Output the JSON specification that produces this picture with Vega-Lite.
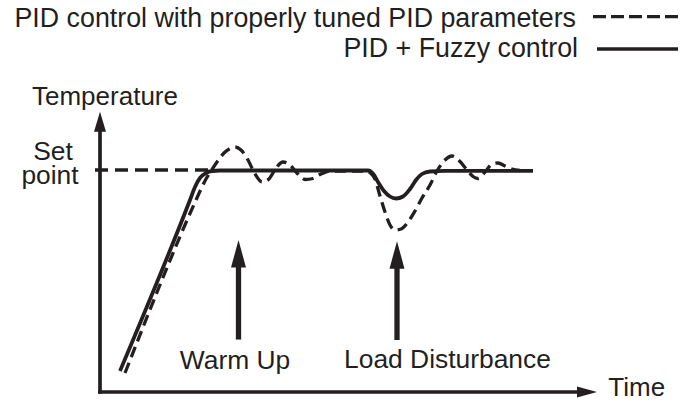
{
  "$schema": "https://vega.github.io/schema/vega-lite/v6.json",
  "width": 690,
  "height": 400,
  "padding": 0,
  "autosize": {"type": "none"},
  "background": "white",
  "config": {"view": {"stroke": null}},
  "datasets": {
    "fuzzy": [
      {"time": 4, "temp": 7.57}, {"time": 18.0, "temp": 69.19}, {"time": 19.0, "temp": 73.87},
      {"time": 20.0, "temp": 77.12}, {"time": 21.2, "temp": 78.92}, {"time": 22.4, "temp": 79.64},
      {"time": 24, "temp": 79.82}, {"time": 53.6, "temp": 79.82}, {"time": 54.8, "temp": 78.2},
      {"time": 55.6, "temp": 75.68}, {"time": 56.8, "temp": 72.43}, {"time": 58, "temp": 70.45},
      {"time": 59.2, "temp": 69.73}, {"time": 60.6, "temp": 70.45}, {"time": 62, "temp": 73.15},
      {"time": 63.2, "temp": 76.4}, {"time": 64.4, "temp": 78.56}, {"time": 66, "temp": 79.46},
      {"time": 69, "temp": 79.7}, {"time": 86.6, "temp": 79.7}
    ],
    "pid": [
      {"time": 5, "temp": 6.85}, {"time": 19.2, "temp": 69.19}, {"time": 20.2, "temp": 73.15},
      {"time": 21.2, "temp": 76.76}, {"time": 22.2, "temp": 79.64}, {"time": 23.4, "temp": 82.88},
      {"time": 24.8, "temp": 86.13}, {"time": 26.0, "temp": 87.75}, {"time": 27.0, "temp": 88.29},
      {"time": 28.2, "temp": 87.21}, {"time": 29.6, "temp": 83.6}, {"time": 31.0, "temp": 78.56},
      {"time": 32.4, "temp": 75.68}, {"time": 33.8, "temp": 76.76}, {"time": 35.2, "temp": 80.72},
      {"time": 36.6, "temp": 82.88}, {"time": 38.0, "temp": 81.8}, {"time": 39.4, "temp": 78.92},
      {"time": 41.0, "temp": 76.58}, {"time": 42.6, "temp": 76.94}, {"time": 44.2, "temp": 78.56},
      {"time": 46.0, "temp": 79.64}, {"time": 53.2, "temp": 79.64}, {"time": 54.2, "temp": 78.74},
      {"time": 55.0, "temp": 76.76}, {"time": 56.0, "temp": 70.63}, {"time": 57.0, "temp": 64.86},
      {"time": 58.0, "temp": 60.18}, {"time": 59.0, "temp": 58.38}, {"time": 60.2, "temp": 58.74},
      {"time": 61.6, "temp": 61.26}, {"time": 63.0, "temp": 65.23}, {"time": 64.4, "temp": 69.91},
      {"time": 66.0, "temp": 74.59}, {"time": 67.4, "temp": 79.64}, {"time": 69.0, "temp": 83.6},
      {"time": 70.4, "temp": 85.05}, {"time": 72.0, "temp": 83.06}, {"time": 73.4, "temp": 80.0},
      {"time": 74.6, "temp": 77.66}, {"time": 75.6, "temp": 76.94}, {"time": 77.0, "temp": 79.28},
      {"time": 78.4, "temp": 82.16}, {"time": 79.6, "temp": 82.52}, {"time": 81.0, "temp": 81.44},
      {"time": 82.4, "temp": 80.36}, {"time": 84.0, "temp": 79.82}
    ],
    "axes": [
      {"time": 0, "temp": 0, "time2": 0, "temp2": 95.1},
      {"time": 0, "temp": 0, "time2": 96, "temp2": 0}
    ],
    "shafts": [
      {"time": 27.7, "temp": 18.9, "time2": 27.7, "temp2": 47.2},
      {"time": 59.4, "temp": 18.74, "time2": 59.4, "temp2": 47.2}
    ],
    "setpoint": [{"time": -1, "temp": 80, "time2": 22.6, "temp2": 80}],
    "legendDashed": [{"time": 98.6, "temp": 135.3, "time2": 115.6, "temp2": 135.3}],
    "legendSolid": [{"time": 99.4, "temp": 123.6, "time2": 115.6, "temp2": 123.6}],
    "headUp": [{"time": 0, "temp": 97.4}],
    "headRight": [{"time": 97.4, "temp": 0}],
    "bigHeads": [{"time": 27.7, "temp": 49.8}, {"time": 59.4, "temp": 49.4}],
    "labelsLeft": [
      {"time": -13.6, "temp": 103.42, "label": "Temperature"},
      {"time": 101.66, "temp": -1.6, "label": "Time"}
    ],
    "labelsCenter": [
      {"time": -9.4, "temp": 83.6, "label": "Set"},
      {"time": -10, "temp": 74.8, "label": "point"},
      {"time": 27, "temp": 8.18, "label": "Warm Up"},
      {"time": 69.5, "temp": 8.54, "label": "Load Disturbance"}
    ],
    "labelsRight": [
      {"time": 95.2, "temp": 131.64, "label": "PID control with properly tuned PID parameters"},
      {"time": 95.6, "temp": 120.61, "label": "PID + Fuzzy control"}
    ]
  },
  "encoding": {
    "x": {"field": "time", "type": "quantitative", "scale": {"domain": [-20, 118], "nice": false, "zero": false}, "axis": null},
    "y": {"field": "temp", "type": "quantitative", "scale": {"domain": [-2.883, 141.26], "nice": false, "zero": false}, "axis": null}
  },
  "layer": [
    {
      "data": {"name": "axes"},
      "mark": {"type": "rule", "color": "#231f20", "strokeWidth": 3.7, "strokeCap": "square"},
      "encoding": {"x2": {"field": "time2"}, "y2": {"field": "temp2"}}
    },
    {
      "data": {"name": "shafts"},
      "mark": {"type": "rule", "color": "#231f20", "strokeWidth": 5.3},
      "encoding": {"x2": {"field": "time2"}, "y2": {"field": "temp2"}}
    },
    {
      "data": {"name": "setpoint"},
      "mark": {"type": "rule", "color": "#231f20", "strokeWidth": 3.3, "strokeDash": [13, 7]},
      "encoding": {"x2": {"field": "time2"}, "y2": {"field": "temp2"}}
    },
    {
      "data": {"name": "legendDashed"},
      "mark": {"type": "rule", "color": "#231f20", "strokeWidth": 3.3, "strokeDash": [13, 5]},
      "encoding": {"x2": {"field": "time2"}, "y2": {"field": "temp2"}}
    },
    {
      "data": {"name": "legendSolid"},
      "mark": {"type": "rule", "color": "#231f20", "strokeWidth": 3.3},
      "encoding": {"x2": {"field": "time2"}, "y2": {"field": "temp2"}}
    },
    {
      "data": {"name": "fuzzy"},
      "mark": {"type": "line", "color": "#231f20", "strokeWidth": 3.8, "interpolate": "monotone"},
      "encoding": {}
    },
    {
      "data": {"name": "pid"},
      "mark": {"type": "line", "color": "#231f20", "strokeWidth": 3.3, "strokeDash": [11, 6], "interpolate": "monotone"},
      "encoding": {}
    },
    {
      "data": {"name": "headUp"},
      "mark": {"type": "point", "shape": "M0,-1L0.6,1L-0.6,1Z", "size": 400, "filled": true, "color": "#231f20", "opacity": 1, "strokeWidth": 0},
      "encoding": {}
    },
    {
      "data": {"name": "headRight"},
      "mark": {"type": "point", "shape": "M0,-1L0.55,1L-0.55,1Z", "size": 400, "angle": 90, "filled": true, "color": "#231f20", "opacity": 1, "strokeWidth": 0},
      "encoding": {}
    },
    {
      "data": {"name": "bigHeads"},
      "mark": {"type": "point", "shape": "M0,-1L0.545,1L-0.545,1Z", "size": 756, "filled": true, "color": "#231f20", "opacity": 1, "strokeWidth": 0},
      "encoding": {}
    },
    {
      "data": {"name": "labelsLeft"},
      "mark": {"type": "text", "align": "left", "baseline": "alphabetic", "font": "Liberation Sans", "fontSize": 26, "color": "#231f20"},
      "encoding": {"text": {"field": "label"}}
    },
    {
      "data": {"name": "labelsCenter"},
      "mark": {"type": "text", "align": "center", "baseline": "alphabetic", "font": "Liberation Sans", "fontSize": 26.4, "color": "#231f20"},
      "encoding": {"text": {"field": "label"}}
    },
    {
      "data": {"name": "labelsRight"},
      "mark": {"type": "text", "align": "right", "baseline": "alphabetic", "font": "Liberation Sans", "fontSize": 26.8, "color": "#231f20"},
      "encoding": {"text": {"field": "label"}}
    }
  ]
}
